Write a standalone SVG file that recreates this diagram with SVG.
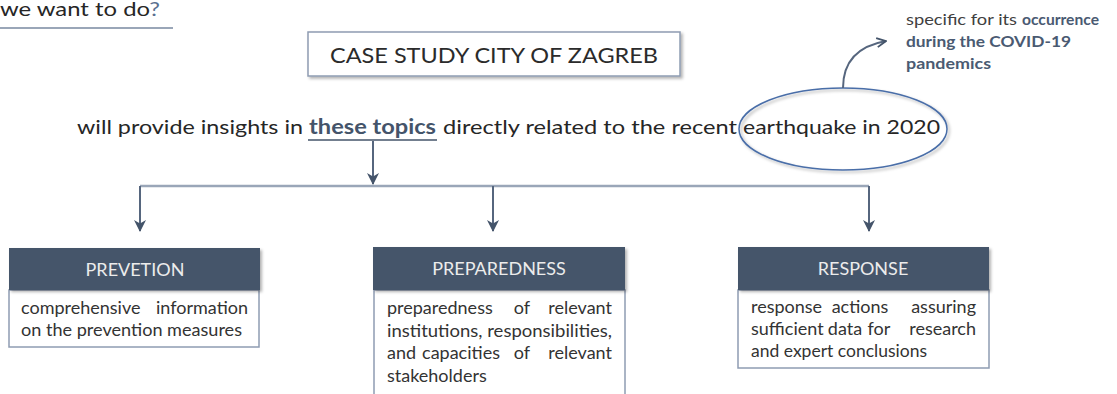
<svg xmlns="http://www.w3.org/2000/svg" width="1117" height="394" viewBox="0 0 1117 394">
  <defs>
    <style>
      text { font-family: Lato, "Liberation Sans", Arial, sans-serif; fill: #262626; }
      .main { font-size: 20px; }
      .hl { fill: #44546a; font-weight: bold; }
      .title { font-size: 22px; fill: #2b2b2b; }
      .hdr { font-size: 18px; fill: #ececec; text-anchor: middle; }
      .body { font-size: 18px; fill: #333333; }
      .mid { text-anchor: middle; }
      .end { text-anchor: end; }
      .note { font-size: 14.5px; fill: #404040; }
      .note-b { font-size: 14.5px; fill: #4a5a72; font-weight: bold; }
      .head-fill { fill: #44546a; }
      .body-box { fill: #ffffff; stroke: #8e9cb2; stroke-width: 1.5; }
      .link { fill: none; stroke: #56667e; stroke-width: 2; }
      .bus { fill: none; stroke: #9aa6b8; stroke-width: 2.5; }
    </style>
    <filter id="shadow" x="-5%" y="-20%" width="112%" height="150%">
      <feDropShadow dx="2" dy="2" stdDeviation="1.5" flood-color="#000" flood-opacity="0.3"/>
    </filter>
    <marker id="arrow" viewBox="0 0 12 12" refX="11" refY="6" markerWidth="12" markerHeight="12" markerUnits="userSpaceOnUse" orient="auto">
      <path d="M0,0 L12,6 L0,12 L3.5,6 z" fill="#44546a"/>
    </marker>
    <marker id="chev" viewBox="0 0 12 12" refX="11" refY="6" markerWidth="11" markerHeight="11" markerUnits="userSpaceOnUse" orient="auto">
      <path d="M1,1 L11,6 L1,11" fill="none" stroke="#44546a" stroke-width="2"/>
    </marker>
  </defs>

  <!-- heading fragment at the top left -->
  <g id="heading">
    <text x="0" y="16" style="font-size:20px" textLength="160" lengthAdjust="spacingAndGlyphs">we want to do<tspan fill="#5a6f90">?</tspan></text>
    <line x1="0" y1="28" x2="173" y2="28" stroke="#9aa6b8" stroke-width="2"/>
  </g>

  <!-- case study title box -->
  <g id="case-study">
    <rect x="308" y="32" width="372" height="44" fill="#ffffff" stroke="#8e9cb2" stroke-width="1.5" filter="url(#shadow)"/>
    <text class="title" x="330" y="63" textLength="328" lengthAdjust="spacingAndGlyphs">CASE STUDY CITY OF ZAGREB</text>
  </g>

  <!-- sentence line -->
  <g id="statement">
    <text class="main" x="77" y="134" textLength="226" lengthAdjust="spacingAndGlyphs">will provide insights in</text>
    <text class="main hl" x="309" y="134" textLength="127" lengthAdjust="spacingAndGlyphs">these topics</text>
    <line x1="308" y1="140" x2="437" y2="140" stroke="#44546a" stroke-width="1.5"/>
    <text class="main" x="443" y="134" textLength="294" lengthAdjust="spacingAndGlyphs">directly related to the recent</text>
    <text class="main" x="743" y="134" textLength="197" lengthAdjust="spacingAndGlyphs">earthquake in 2020</text>
  </g>

  <!-- circled highlight -->
  <g id="highlight">
    <ellipse cx="843" cy="129" rx="104" ry="41" fill="none" stroke="#4a6ea8" stroke-width="1.5" filter="url(#shadow)"/>
  </g>

  <!-- side note -->
  <g id="note">
    <text class="note" x="906" y="25" textLength="111" lengthAdjust="spacingAndGlyphs">specific for its</text>
    <text class="note-b" x="1022" y="25" textLength="77" lengthAdjust="spacingAndGlyphs">occurrence</text>
    <text class="note-b" x="906" y="47" textLength="165" lengthAdjust="spacingAndGlyphs">during the COVID-19</text>
    <text class="note-b" x="906" y="69" textLength="85" lengthAdjust="spacingAndGlyphs">pandemics</text>
  </g>

  <!-- connectors -->
  <g id="connectors">
    <path class="link" d="M843,88 C843,62 858,46 886,41" marker-end="url(#chev)" stroke-width="1.5"/>
    <path class="bus" d="M140,186 H869"/>
    <path class="link" d="M373,141 V184" marker-end="url(#arrow)"/>
    <path class="link" d="M140,186 V231" marker-end="url(#arrow)"/>
    <path class="link" d="M493,186 V231" marker-end="url(#arrow)"/>
    <path class="link" d="M869,186 V231" marker-end="url(#arrow)"/>
  </g>

  <!-- PREVETION -->
  <g id="prevention">
    <rect class="body-box" x="9" y="290" width="250" height="57"/>
    <rect class="head-fill" x="9" y="248" width="251" height="42" filter="url(#shadow)"/>
    <text class="hdr" x="135" y="276">PREVETION</text>
    <text class="body" x="21" y="314">comprehensive</text>
    <text class="body end" x="248" y="314">information</text>
    <text class="body" x="21" y="336" textLength="221" lengthAdjust="spacingAndGlyphs">on the prevention measures</text>
  </g>

  <!-- PREPAREDNESS -->
  <g id="preparedness">
    <rect class="body-box" x="374" y="290" width="251" height="110"/>
    <rect class="head-fill" x="373" y="247" width="252" height="43" filter="url(#shadow)"/>
    <text class="hdr" x="499" y="275">PREPAREDNESS</text>
    <text class="body" x="387" y="314">preparedness</text>
    <text class="body mid" x="522" y="314">of</text>
    <text class="body end" x="612" y="314">relevant</text>
    <text class="body" x="387" y="337" textLength="225" lengthAdjust="spacingAndGlyphs">institutions, responsibilities,</text>
    <text class="body" x="387" y="359">and</text>
    <text class="body mid" x="461" y="359">capacities</text>
    <text class="body mid" x="522" y="359">of</text>
    <text class="body end" x="612" y="359">relevant</text>
    <text class="body" x="387" y="382">stakeholders</text>
  </g>

  <!-- RESPONSE -->
  <g id="response">
    <rect class="body-box" x="738" y="290" width="251" height="78"/>
    <rect class="head-fill" x="738" y="247" width="251" height="43" filter="url(#shadow)"/>
    <text class="hdr" x="863" y="275">RESPONSE</text>
    <text class="body" x="751" y="313">response</text>
    <text class="body mid" x="860" y="313">actions</text>
    <text class="body end" x="976" y="313">assuring</text>
    <text class="body" x="751" y="335">sufficient</text>
    <text class="body mid" x="845" y="335">data</text>
    <text class="body mid" x="879" y="335">for</text>
    <text class="body end" x="976" y="335">research</text>
    <text class="body" x="751" y="357" textLength="176" lengthAdjust="spacingAndGlyphs">and expert conclusions</text>
  </g>
</svg>
